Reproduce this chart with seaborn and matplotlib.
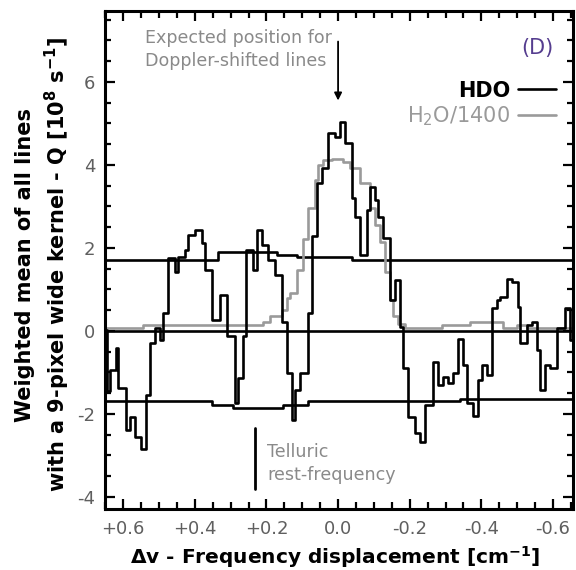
import matplotlib
matplotlib.use("Agg")
import matplotlib.pyplot as plt
import pandas as pd
import seaborn as sns
from matplotlib.lines import Line2D
from matplotlib.ticker import MultipleLocator

# Bin edges (cm^-1) and kernel-weighted means (10^8 s^-1) of the HDO lines
hdo_edges = [0.651, 0.645, 0.637, 0.620, 0.615, 0.592, 0.581, 0.567, 0.550, 0.536,
             0.525, 0.511, 0.497, 0.489, 0.475, 0.455, 0.447, 0.427, 0.419, 0.399,
             0.380, 0.372, 0.352, 0.330, 0.310, 0.288, 0.279, 0.265, 0.257, 0.237,
             0.226, 0.212, 0.196, 0.176, 0.156, 0.142, 0.128, 0.120, 0.106, 0.084,
             0.073, 0.059, 0.045, 0.028, 0.008, -0.006, -0.020, -0.039, -0.047, -0.061,
             -0.081, -0.089, -0.103, -0.112, -0.126, -0.145, -0.159, -0.173, -0.182, -0.196,
             -0.215, -0.229, -0.243, -0.265, -0.279, -0.293, -0.307, -0.321, -0.335, -0.349,
             -0.360, -0.377, -0.391, -0.402, -0.416, -0.430, -0.444, -0.453, -0.472, -0.486,
             -0.503, -0.508, -0.528, -0.542, -0.556, -0.564, -0.578, -0.592, -0.612, -0.634,
             -0.648, -0.656]
hdo_values = [0.02, -1.45, -0.94, -0.41, -1.37, -2.39, -2.07, -2.55, -2.84, -1.54,
              -0.29, 0.07, -0.22, 0.43, 1.76, 1.42, 1.78, 1.95, 2.31, 2.43,
              2.12, 1.47, 0.26, 0.87, -0.12, -1.73, -1.13, -0.12, 1.95, 1.47,
              2.43, 2.07, 1.71, 1.35, 0.22, -1.01, -2.14, -1.42, -1.01, 0.43,
              2.29, 3.57, 3.93, 4.77, 4.67, 5.04, 4.53, 3.20, 2.75, 1.83,
              2.92, 3.47, 3.16, 2.75, 2.24, 0.75, 1.23, 0.10, -0.90, -2.07,
              -2.46, -2.67, -1.78, -0.75, -1.30, -1.10, -1.25, -1.01, -0.19, -0.82,
              -1.73, -2.05, -1.18, -0.82, -1.06, 0.55, 0.75, 0.82, 1.25, 1.18,
              0.58, -0.29, 0.14, 0.22, -0.46, -1.42, -0.82, -0.90, 0.07, 0.55,
              -0.22]

# Same kernel applied to the H2O lines, scaled down by 1400
h2o_edges = [0.651, 0.545, 0.209, 0.190, 0.156, 0.142, 0.134, 0.115, 0.098, 0.084,
             0.064, 0.056, 0.042, 0.017, -0.014, -0.034, -0.061, -0.089, -0.103, -0.117,
             -0.131, -0.145, -0.154, -0.168, -0.187, -0.291, -0.369, -0.461, -0.500, -0.528,
             -0.656]
h2o_values = [0.07, 0.14, 0.22, 0.36, 0.51, 0.80, 0.92, 1.47, 2.22, 2.96,
              3.64, 4.00, 4.12, 4.14, 4.07, 3.93, 3.57, 2.96, 2.55, 2.14,
              1.42, 0.75, 0.36, 0.17, 0.07, 0.14, 0.22, 0.07, 0.14, 0.07]

# +/- 1 sigma noise envelope
sigma_hi_edges = [0.651, 0.335, 0.170, 0.115, -0.039, -0.656]
sigma_hi_values = [1.71, 1.89, 1.83, 1.78, 1.71]
sigma_lo_edges = [0.651, 0.352, 0.293, 0.154, 0.084, -0.341, -0.656]
sigma_lo_values = [-1.70, -1.78, -1.85, -1.78, -1.70, -1.64]

x_ticks = [0.6, 0.4, 0.2, 0.0, -0.2, -0.4, -0.6]
x_tick_labels = ["+0.6", "+0.4", "+0.2", "0.0", "-0.2", "-0.4", "-0.6"]
y_ticks = [-4, -2, 0, 2, 4, 6]
y_tick_labels = ["-4", "-2", "0", "2", "4", "6"]

legend_labels = ["HDO", "H$_2$O/1400"]


def step_frame(edges, values):
    """Edges plus values, last value repeated so steps-post closes the final bin."""
    return pd.DataFrame({"x": edges, "y": list(values) + [values[-1]]})


sns.set_theme(style="ticks")
plt.rcParams["font.family"] = ["DejaVu Sans"]
plt.rcParams["mathtext.default"] = "regular"

fig = plt.figure(figsize=(5.76, 5.70), dpi=100)
ax = fig.add_axes([0.182, 0.107, 0.813, 0.874])

lw = 1.9
gray = "#9a9a9a"
step_kw = dict(x="x", y="y", sort=False, estimator=None, drawstyle="steps-post",
               legend=False, ax=ax)

for e, v in [(sigma_hi_edges, sigma_hi_values), (sigma_lo_edges, sigma_lo_values)]:
    sns.lineplot(data=step_frame(e, v), color="black", lw=lw, **step_kw)
ax.axhline(0, color="black", lw=lw)

sns.lineplot(data=step_frame(h2o_edges, h2o_values), color=gray, lw=lw, **step_kw)
sns.lineplot(data=step_frame(hdo_edges, hdo_values), color="black", lw=lw, **step_kw)

ax.set_xlim(0.651, -0.656)
ax.set_ylim(-4.29, 7.71)

ax.set_xticks(x_ticks, labels=x_tick_labels)
ax.set_yticks(y_ticks, labels=y_tick_labels)
ax.xaxis.set_minor_locator(MultipleLocator(0.05))
ax.yaxis.set_minor_locator(MultipleLocator(0.5))
ax.tick_params(which="both", direction="in", top=True, right=True, width=1.6,
               colors="black", labelcolor="#5f5f5f", labelsize=13)
ax.tick_params(axis="x", which="major", length=7, pad=8)
ax.tick_params(axis="x", which="minor", length=5)
ax.tick_params(axis="y", which="major", length=7, pad=7)
ax.tick_params(axis="y", which="minor", length=4)
for sp in ax.spines.values():
    sp.set_linewidth(2.2)
    sp.set_color("black")

ax.set_xlabel("\u0394v - Frequency displacement [cm$^{-1}$]", fontsize=14.5,
              fontweight="bold", color="black")
ax.xaxis.set_label_coords(0.491, -0.07)
ax.set_ylabel("Weighted mean of all lines\nwith a 9-pixel wide kernel - Q [10$^8$ s$^{-1}$]",
              fontsize=15, fontweight="bold", linespacing=1.35, color="black")
ax.yaxis.set_label_coords(-0.07, 0.49)

# Expected Doppler-shifted position
ax.annotate("", xy=(0.0, 5.55), xytext=(0.0, 6.97),
            arrowprops=dict(arrowstyle="-|>", color="black", lw=1.3,
                            mutation_scale=11, shrinkA=0, shrinkB=0))
ax.text(0.539, 6.77, "Expected position for\nDoppler-shifted lines", fontsize=12.6,
        color="#8a8a8a", ha="left", va="center", linespacing=1.35)

# Telluric rest frequency marker
ax.plot([0.232, 0.232], [-2.34, -3.81], color="black", lw=2.0)
ax.text(0.198, -3.2, "Telluric\nrest-frequency", fontsize=12.6, color="#8a8a8a",
        ha="left", va="center", linespacing=1.35)

ax.text(-0.556, 6.82, "(D)", fontsize=15, color="#553d8f", ha="center", va="center")

handles = [Line2D([], [], color="black", lw=lw), Line2D([], [], color=gray, lw=lw)]
leg = ax.legend(handles, legend_labels, loc="upper right", bbox_to_anchor=(0.964, 0.86),
                frameon=False, markerfirst=False, handlelength=1.85, handletextpad=0.35,
                labelspacing=0.2, borderaxespad=0, borderpad=0, fontsize=15)
leg_texts = leg.get_texts()
leg_texts[0].set_fontweight("bold")
leg_texts[0].set_color("black")
leg_texts[1].set_color(gray)

fig.savefig("out.png", dpi=100)
